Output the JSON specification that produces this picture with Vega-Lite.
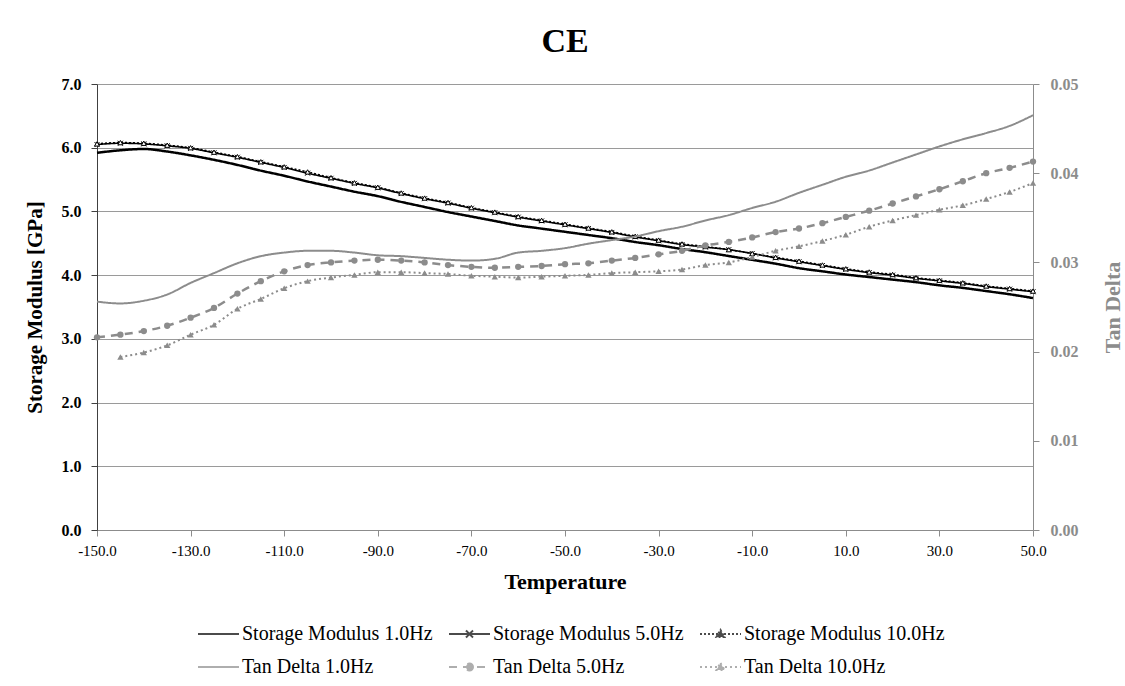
{
  "$schema": "https://vega.github.io/schema/vega-lite/v6.json",
  "width": 936,
  "height": 446,
  "autosize": {"type": "none"},
  "padding": {"left": 97, "top": 84, "right": 92, "bottom": 156},
  "background": "white",
  "config": {
    "font": "Liberation Serif",
    "view": {"stroke": null}
  },
  "title": {"text": "CE", "font": "Liberation Serif", "fontSize": 34, "fontWeight": "bold", "color": "black", "anchor": "middle", "offset": 17},
  "datasets": {
    "sm": [
      {"T": -150, "SM1": 5.92, "SM5": 6.05, "SM10": 6.06},
      {"T": -145, "SM1": 5.96, "SM5": 6.07, "SM10": 6.08},
      {"T": -140, "SM1": 5.98, "SM5": 6.06, "SM10": 6.07},
      {"T": -135, "SM1": 5.94, "SM5": 6.03, "SM10": 6.04},
      {"T": -130, "SM1": 5.88, "SM5": 5.99, "SM10": 6.00},
      {"T": -125, "SM1": 5.81, "SM5": 5.92, "SM10": 5.93},
      {"T": -120, "SM1": 5.73, "SM5": 5.85, "SM10": 5.86},
      {"T": -115, "SM1": 5.64, "SM5": 5.77, "SM10": 5.78},
      {"T": -110, "SM1": 5.56, "SM5": 5.69, "SM10": 5.70},
      {"T": -105, "SM1": 5.47, "SM5": 5.60, "SM10": 5.62},
      {"T": -100, "SM1": 5.39, "SM5": 5.52, "SM10": 5.53},
      {"T": -95, "SM1": 5.31, "SM5": 5.44, "SM10": 5.45},
      {"T": -90, "SM1": 5.24, "SM5": 5.37, "SM10": 5.38},
      {"T": -85, "SM1": 5.15, "SM5": 5.28, "SM10": 5.29},
      {"T": -80, "SM1": 5.07, "SM5": 5.20, "SM10": 5.21},
      {"T": -75, "SM1": 4.99, "SM5": 5.13, "SM10": 5.14},
      {"T": -70, "SM1": 4.92, "SM5": 5.05, "SM10": 5.06},
      {"T": -65, "SM1": 4.85, "SM5": 4.98, "SM10": 4.99},
      {"T": -60, "SM1": 4.78, "SM5": 4.91, "SM10": 4.92},
      {"T": -55, "SM1": 4.73, "SM5": 4.85, "SM10": 4.86},
      {"T": -50, "SM1": 4.68, "SM5": 4.79, "SM10": 4.80},
      {"T": -45, "SM1": 4.63, "SM5": 4.73, "SM10": 4.74},
      {"T": -40, "SM1": 4.58, "SM5": 4.67, "SM10": 4.68},
      {"T": -35, "SM1": 4.52, "SM5": 4.60, "SM10": 4.61},
      {"T": -30, "SM1": 4.47, "SM5": 4.54, "SM10": 4.55},
      {"T": -25, "SM1": 4.41, "SM5": 4.48, "SM10": 4.49},
      {"T": -20, "SM1": 4.36, "SM5": 4.44, "SM10": 4.45},
      {"T": -15, "SM1": 4.30, "SM5": 4.40, "SM10": 4.40},
      {"T": -10, "SM1": 4.24, "SM5": 4.34, "SM10": 4.34},
      {"T": -5, "SM1": 4.18, "SM5": 4.27, "SM10": 4.28},
      {"T": 0, "SM1": 4.11, "SM5": 4.21, "SM10": 4.22},
      {"T": 5, "SM1": 4.06, "SM5": 4.15, "SM10": 4.16},
      {"T": 10, "SM1": 4.01, "SM5": 4.09, "SM10": 4.10},
      {"T": 15, "SM1": 3.97, "SM5": 4.04, "SM10": 4.05},
      {"T": 20, "SM1": 3.93, "SM5": 4.00, "SM10": 4.01},
      {"T": 25, "SM1": 3.89, "SM5": 3.95, "SM10": 3.96},
      {"T": 30, "SM1": 3.84, "SM5": 3.91, "SM10": 3.92},
      {"T": 35, "SM1": 3.80, "SM5": 3.87, "SM10": 3.88},
      {"T": 40, "SM1": 3.75, "SM5": 3.82, "SM10": 3.83},
      {"T": 45, "SM1": 3.70, "SM5": 3.78, "SM10": 3.79},
      {"T": 50, "SM1": 3.64, "SM5": 3.74, "SM10": 3.75}
    ],
    "td": [
      {"T": -150, "TD1": 0.0256, "TD5": 0.0216, "TD10": null},
      {"T": -145, "TD1": 0.0254, "TD5": 0.0219, "TD10": 0.0194},
      {"T": -140, "TD1": 0.0257, "TD5": 0.0223, "TD10": 0.0199},
      {"T": -135, "TD1": 0.0264, "TD5": 0.0229, "TD10": 0.0207},
      {"T": -130, "TD1": 0.0277, "TD5": 0.0238, "TD10": 0.0219},
      {"T": -125, "TD1": 0.0288, "TD5": 0.0249, "TD10": 0.0230},
      {"T": -120, "TD1": 0.0299, "TD5": 0.0265, "TD10": 0.0248},
      {"T": -115, "TD1": 0.0307, "TD5": 0.0279, "TD10": 0.0259},
      {"T": -110, "TD1": 0.0311, "TD5": 0.0290, "TD10": 0.0271},
      {"T": -105, "TD1": 0.0313, "TD5": 0.0297, "TD10": 0.0279},
      {"T": -100, "TD1": 0.0313, "TD5": 0.0300, "TD10": 0.0283},
      {"T": -95, "TD1": 0.0311, "TD5": 0.0302, "TD10": 0.0286},
      {"T": -90, "TD1": 0.0308, "TD5": 0.0303, "TD10": 0.0289},
      {"T": -85, "TD1": 0.0307, "TD5": 0.0302, "TD10": 0.0289},
      {"T": -80, "TD1": 0.0305, "TD5": 0.0300, "TD10": 0.0288},
      {"T": -75, "TD1": 0.0303, "TD5": 0.0297, "TD10": 0.0287},
      {"T": -70, "TD1": 0.0302, "TD5": 0.0295, "TD10": 0.0285},
      {"T": -65, "TD1": 0.0304, "TD5": 0.0294, "TD10": 0.0284},
      {"T": -60, "TD1": 0.0311, "TD5": 0.0295, "TD10": 0.0283},
      {"T": -55, "TD1": 0.0313, "TD5": 0.0296, "TD10": 0.0284},
      {"T": -50, "TD1": 0.0316, "TD5": 0.0298, "TD10": 0.0285},
      {"T": -45, "TD1": 0.0321, "TD5": 0.0299, "TD10": 0.0286},
      {"T": -40, "TD1": 0.0325, "TD5": 0.0302, "TD10": 0.0288},
      {"T": -35, "TD1": 0.0329, "TD5": 0.0305, "TD10": 0.0289},
      {"T": -30, "TD1": 0.0335, "TD5": 0.0309, "TD10": 0.0290},
      {"T": -25, "TD1": 0.0340, "TD5": 0.0313, "TD10": 0.0292},
      {"T": -20, "TD1": 0.0347, "TD5": 0.0319, "TD10": 0.0297},
      {"T": -15, "TD1": 0.0353, "TD5": 0.0323, "TD10": 0.0300},
      {"T": -10, "TD1": 0.0361, "TD5": 0.0328, "TD10": 0.0306},
      {"T": -5, "TD1": 0.0368, "TD5": 0.0334, "TD10": 0.0313},
      {"T": 0, "TD1": 0.0378, "TD5": 0.0338, "TD10": 0.0318},
      {"T": 5, "TD1": 0.0387, "TD5": 0.0344, "TD10": 0.0324},
      {"T": 10, "TD1": 0.0396, "TD5": 0.0351, "TD10": 0.0331},
      {"T": 15, "TD1": 0.0403, "TD5": 0.0358, "TD10": 0.0340},
      {"T": 20, "TD1": 0.0412, "TD5": 0.0366, "TD10": 0.0347},
      {"T": 25, "TD1": 0.0421, "TD5": 0.0374, "TD10": 0.0353},
      {"T": 30, "TD1": 0.0430, "TD5": 0.0382, "TD10": 0.0359},
      {"T": 35, "TD1": 0.0438, "TD5": 0.0391, "TD10": 0.0364},
      {"T": 40, "TD1": 0.0445, "TD5": 0.0400, "TD10": 0.0371},
      {"T": 45, "TD1": 0.0453, "TD5": 0.0406, "TD10": 0.0379},
      {"T": 50, "TD1": 0.0465, "TD5": 0.0413, "TD10": 0.0389}
    ]
  },
  "encoding": {
    "x": {
      "field": "T", "type": "quantitative",
      "scale": {"domain": [-150, 50], "nice": false, "zero": false},
      "axis": {
        "title": "Temperature",
        "values": [-150, -130, -110, -90, -70, -50, -30, -10, 10, 30, 50],
        "labelExpr": "(datum.value < 0 ? '-' : '') + format(abs(datum.value), '.1f')",
        "grid": false,
        "labelFlush": false,
        "labelFont": "Liberation Serif", "labelFontSize": 15, "labelColor": "black", "labelPadding": 7,
        "domainColor": "#8c8c8c", "tickColor": "#8c8c8c", "tickSize": 6,
        "titleFont": "Liberation Serif", "titleFontSize": 22, "titleFontWeight": "bold", "titleColor": "black", "titlePadding": 13
      }
    },
    "color": {
      "field": "series", "type": "nominal",
      "scale": {
        "domain": ["SM1", "SM5", "SM10", "TD1", "TD5", "TD10"],
        "range": ["#000000", "#000000", "#000000", "#8c8c8c", "#8c8c8c", "#8c8c8c"]
      },
      "legend": {
        "title": null,
        "orient": "none",
        "legendX": 100,
        "legendY": 539,
        "direction": "horizontal",
        "columns": 3,
        "columnPadding": 12,
        "rowPadding": 12,
        "padding": 0,
        "symbolSize": 400,
        "symbolStrokeWidth": 2,
        "labelOffset": 23,
        "labelLimit": 400,
        "labelFont": "Liberation Serif", "labelFontSize": 20, "labelColor": "black",
        "labelExpr": "{'SM1': 'Storage Modulus 1.0Hz', 'SM5': 'Storage Modulus 5.0Hz', 'SM10': 'Storage Modulus 10.0Hz', 'TD1': 'Tan Delta 1.0Hz', 'TD5': 'Tan Delta 5.0Hz', 'TD10': 'Tan Delta 10.0Hz'}[datum.label]"
      }
    }
  },
  "layer": [
    {
      "data": {"name": "sm"},
      "transform": [
        {"fold": ["SM1", "SM5", "SM10"], "as": ["series", "v"]}
      ],
      "encoding": {
        "y": {
          "field": "v", "type": "quantitative",
          "scale": {"domain": [0, 7], "nice": false},
          "axis": {
            "orient": "left",
            "title": "Storage Modulus [GPa]",
            "values": [0, 1, 2, 3, 4, 5, 6, 7],
            "format": ".1f",
            "grid": true, "gridColor": "#9a9a9a", "gridWidth": 1,
            "labelFont": "Liberation Serif", "labelFontSize": 16, "labelFontWeight": "bold", "labelColor": "black", "labelPadding": 10,
            "domainColor": "#404040", "tickColor": "#404040", "tickSize": 6,
            "titleFont": "Liberation Serif", "titleFontSize": 21, "titleFontWeight": "bold", "titleColor": "black", "titlePadding": 16
          }
        }
      },
      "layer": [
        {
          "mark": {"type": "line", "interpolate": "monotone"},
          "encoding": {
            "strokeDash": {
              "field": "series", "type": "nominal",
              "scale": {"domain": ["SM1", "SM5", "SM10", "TD1", "TD5", "TD10"], "range": [[1, 0], [1, 0], [2, 2], [1, 0], [8, 6], [2, 3]]}
            },
            "strokeWidth": {
              "condition": {"test": "datum.series === 'SM1'", "value": 2.5},
              "value": 1.6
            }
          }
        },
        {
          "mark": {"type": "point", "filled": false, "size": 0},
          "encoding": {
            "shape": {
              "field": "series", "type": "nominal",
              "scale": {
                "domain": ["SM1", "SM5", "SM10", "TD1", "TD5", "TD10"],
                "range": [
                  "M-1,0H3.1",
                  "M-1,0H3.1M0.7,-0.35L1.4,0.35M0.7,0.35L1.4,-0.35",
                  "M-1,0H3.1M1.05,-0.4L1.45,0.3L0.65,0.3Z",
                  "M-1,0H3.1",
                  "M-1,0H3.1M1.4,0A0.35,0.35 0 1,1 0.7,0A0.35,0.35 0 1,1 1.4,0",
                  "M-1,0H3.1M1.05,-0.4L1.45,0.3L0.65,0.3Z"
                ]
              }
            }
          }
        },
        {
          "transform": [{"filter": {"field": "series", "oneOf": ["SM5", "SM10"]}}],
          "mark": {"type": "point", "filled": false, "strokeWidth": 1, "opacity": 1, "size": 25},
          "encoding": {
            "shape": {
              "condition": {"test": "datum.series === 'SM5'", "value": "M-1,-1L1,1M-1,1L1,-1"},
              "value": "triangle-up"
            },
            "fill": {
              "condition": {"test": "datum.series === 'SM10'", "value": "white"},
              "value": "transparent"
            }
          }
        }
      ]
    },
    {
      "data": {"name": "td"},
      "transform": [
        {"fold": ["TD1", "TD5", "TD10"], "as": ["series", "v"]}
      ],
      "encoding": {
        "y": {
          "field": "v", "type": "quantitative",
          "scale": {"domain": [0, 0.05], "nice": false},
          "axis": {
            "orient": "right",
            "title": "Tan Delta",
            "values": [0, 0.01, 0.02, 0.03, 0.04, 0.05],
            "format": ".2f",
            "grid": false,
            "labelFont": "Liberation Serif", "labelFontSize": 16, "labelFontWeight": "bold", "labelColor": "#8c8c8c", "labelPadding": 11,
            "domainColor": "#8c8c8c", "tickColor": "#8c8c8c", "tickSize": 6,
            "titleFont": "Liberation Serif", "titleFontSize": 22, "titleFontWeight": "bold", "titleColor": "#8c8c8c", "titlePadding": 46, "titleAngle": 270
          }
        }
      },
      "layer": [
        {
          "mark": {"type": "line", "interpolate": "monotone"},
          "encoding": {
            "strokeDash": {
              "field": "series", "type": "nominal",
              "scale": {"domain": ["SM1", "SM5", "SM10", "TD1", "TD5", "TD10"], "range": [[1, 0], [1, 0], [2, 2], [1, 0], [8, 6], [2, 3]]}
            },
            "strokeWidth": {
              "condition": {"test": "datum.series === 'TD5'", "value": 2.5},
              "value": 2
            }
          }
        },
        {
          "transform": [{"filter": {"field": "series", "oneOf": ["TD5", "TD10"]}}],
          "mark": {"type": "point", "filled": true, "opacity": 1, "size": 40},
          "encoding": {
            "shape": {
              "condition": {"test": "datum.series === 'TD5'", "value": "circle"},
              "value": "triangle-up"
            }
          }
        }
      ]
    }
  ],
  "resolve": {"scale": {"y": "independent"}}
}
